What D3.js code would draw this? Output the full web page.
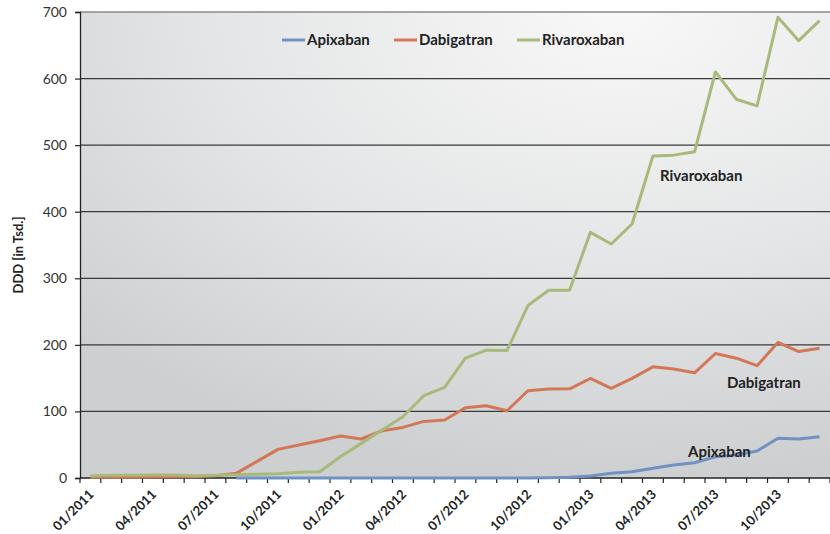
<!DOCTYPE html>
<html><head><meta charset="utf-8">
<script src="https://cdn.jsdelivr.net/npm/d3@7"></script>
<style>
html,body{margin:0;padding:0;background:#fff;}
svg{display:block;font-family:Lato,"Open Sans",sans-serif;}
</style></head>
<body><svg id="c" width="830" height="534"></svg>
<script>
const months = ["01/2011","02/2011","03/2011","04/2011","05/2011","06/2011","07/2011","08/2011","09/2011","10/2011","11/2011","12/2011",
"01/2012","02/2012","03/2012","04/2012","05/2012","06/2012","07/2012","08/2012","09/2012","10/2012","11/2012","12/2012",
"01/2013","02/2013","03/2013","04/2013","05/2013","06/2013","07/2013","08/2013","09/2013","10/2013","11/2013","12/2013"];
const tickLabels = ["01/2011","04/2011","07/2011","10/2011","01/2012","04/2012","07/2012","10/2012","01/2013","04/2013","07/2013","10/2013"];
const yTicks = [0,100,200,300,400,500,600,700];
const apixaban = [null,null,null,null,null,null,null,0,0,0,0,0,0,0,0,0,0,0,0,0,0,0,0.5,1,3,7,9.5,14.5,19.5,23,32,34.5,40.5,59.6,58.6,62];
const dabigatran = [1,1,1,1.5,2,2,3.5,7,25,43,49.5,56,63,58.6,71,76,85,87,105.6,108.6,101,131,133.7,134,149.5,134.7,149.7,167,163.7,158,187,180,168.7,203.7,190,195];
const rivaroxaban = [3,4,4,4.5,4.5,3.5,4,5,5.5,6.5,8.5,9.5,32,52,72,92,123.6,136,180,192,191.6,259,282,282,369,351.5,381.5,483.7,485,490,610,569,559,692,657,687];
const seriesNames = ["Apixaban","Dabigatran","Rivaroxaban"];
const seriesColors = ["#7191c3","#d27858","#a8ba7b"];
const series = [apixaban, dabigatran, rivaroxaban];

const svg = d3.select("#c");
const L=80, R=830, T=12, B=478;
const x = d3.scaleBand().domain(months).range([L,R]).padding(0);
const y = d3.scaleLinear().domain([0,700]).range([B,T]);

const defs = svg.append("defs");
const g = defs.append("radialGradient").attr("id","bg").attr("cx","0.72").attr("cy","0.0").attr("r","1.0").attr("fx","0.72").attr("fy","0.0");
g.append("stop").attr("offset","0").attr("stop-color","#f8f8f8");
g.append("stop").attr("offset","0.55").attr("stop-color","#e4e5e6");
g.append("stop").attr("offset","1").attr("stop-color","#cdcfd1");
svg.append("rect").attr("x",L).attr("y",T).attr("width",R-L).attr("height",B-T).attr("fill","url(#bg)");

// grid
svg.append("g").selectAll("line").data(yTicks.filter(d=>d>0)).join("line")
  .attr("x1",L).attr("x2",R).attr("y1",d=>y(d)).attr("y2",d=>y(d))
  .attr("stroke",d=>d===700?"#8a8a8a":"#3a3a3a").attr("stroke-width",1.3);

// y axis
const ya = svg.append("g").attr("transform",`translate(${L},0)`)
  .call(d3.axisLeft(y).tickValues(yTicks).tickSize(5).tickPadding(8));
ya.select(".domain").attr("stroke","#222").attr("stroke-width",1.3);
ya.selectAll(".tick line").attr("stroke","#222").attr("stroke-width",1.2);
ya.selectAll(".tick text").attr("font-size",14).attr("fill","#333").attr("font-family","Lato");

// x axis
svg.append("line").attr("x1",L).attr("x2",R).attr("y1",B).attr("y2",B).attr("stroke","#222").attr("stroke-width",1.3);
const bounds = months.map(m=>x(m)).concat([R]);
svg.append("g").selectAll("line").data(bounds).join("line")
  .attr("x1",d=>d).attr("x2",d=>d).attr("y1",B).attr("y2",B+5).attr("stroke","#222").attr("stroke-width",1.2);
svg.append("g").selectAll("text").data(tickLabels).join("text")
  .attr("transform",d=>`translate(${x(d)+x.bandwidth()/2+1},${B+14}) rotate(-45)`)
  .attr("text-anchor","end").attr("dy","0.35em")
  .attr("font-size",13).attr("font-weight","bold").attr("fill","#222").text(d=>d);

// y title
svg.append("text").attr("transform",`translate(18,255) rotate(-90)`)
  .attr("text-anchor","middle").attr("dy","0.35em").attr("font-size",13).attr("font-weight","bold").attr("fill","#222")
  .text("DDD [in Tsd.]");

// lines
const line = d3.line().defined(d=>d!=null).x((d,i)=>x(months[i])+x.bandwidth()/2).y(d=>y(d));
series.forEach((s,k)=>{
  svg.append("path").datum(s).attr("d",line).attr("fill","none")
    .attr("stroke",seriesColors[k]).attr("stroke-width",3).attr("stroke-linejoin","round");
});

// legend
const legX = [282,394,517];
seriesNames.forEach((n,k)=>{
  svg.append("line").attr("x1",legX[k]).attr("x2",legX[k]+23).attr("y1",40).attr("y2",40)
    .attr("stroke",seriesColors[k]).attr("stroke-width",3);
  svg.append("text").attr("x",legX[k]+25).attr("y",40).attr("dy","0.35em")
    .attr("font-size",15).attr("font-weight","bold").attr("fill","#222").text(n);
});

// inline labels
const inl = [["Rivaroxaban",660,176],["Dabigatran",727,383],["Apixaban",688,452]];
svg.append("g").selectAll("text").data(inl).join("text")
  .attr("x",d=>d[1]).attr("y",d=>d[2]).attr("dy","0.35em")
  .attr("font-size",15).attr("font-weight","bold").attr("fill","#222").text(d=>d[0]);
</script></body></html>
